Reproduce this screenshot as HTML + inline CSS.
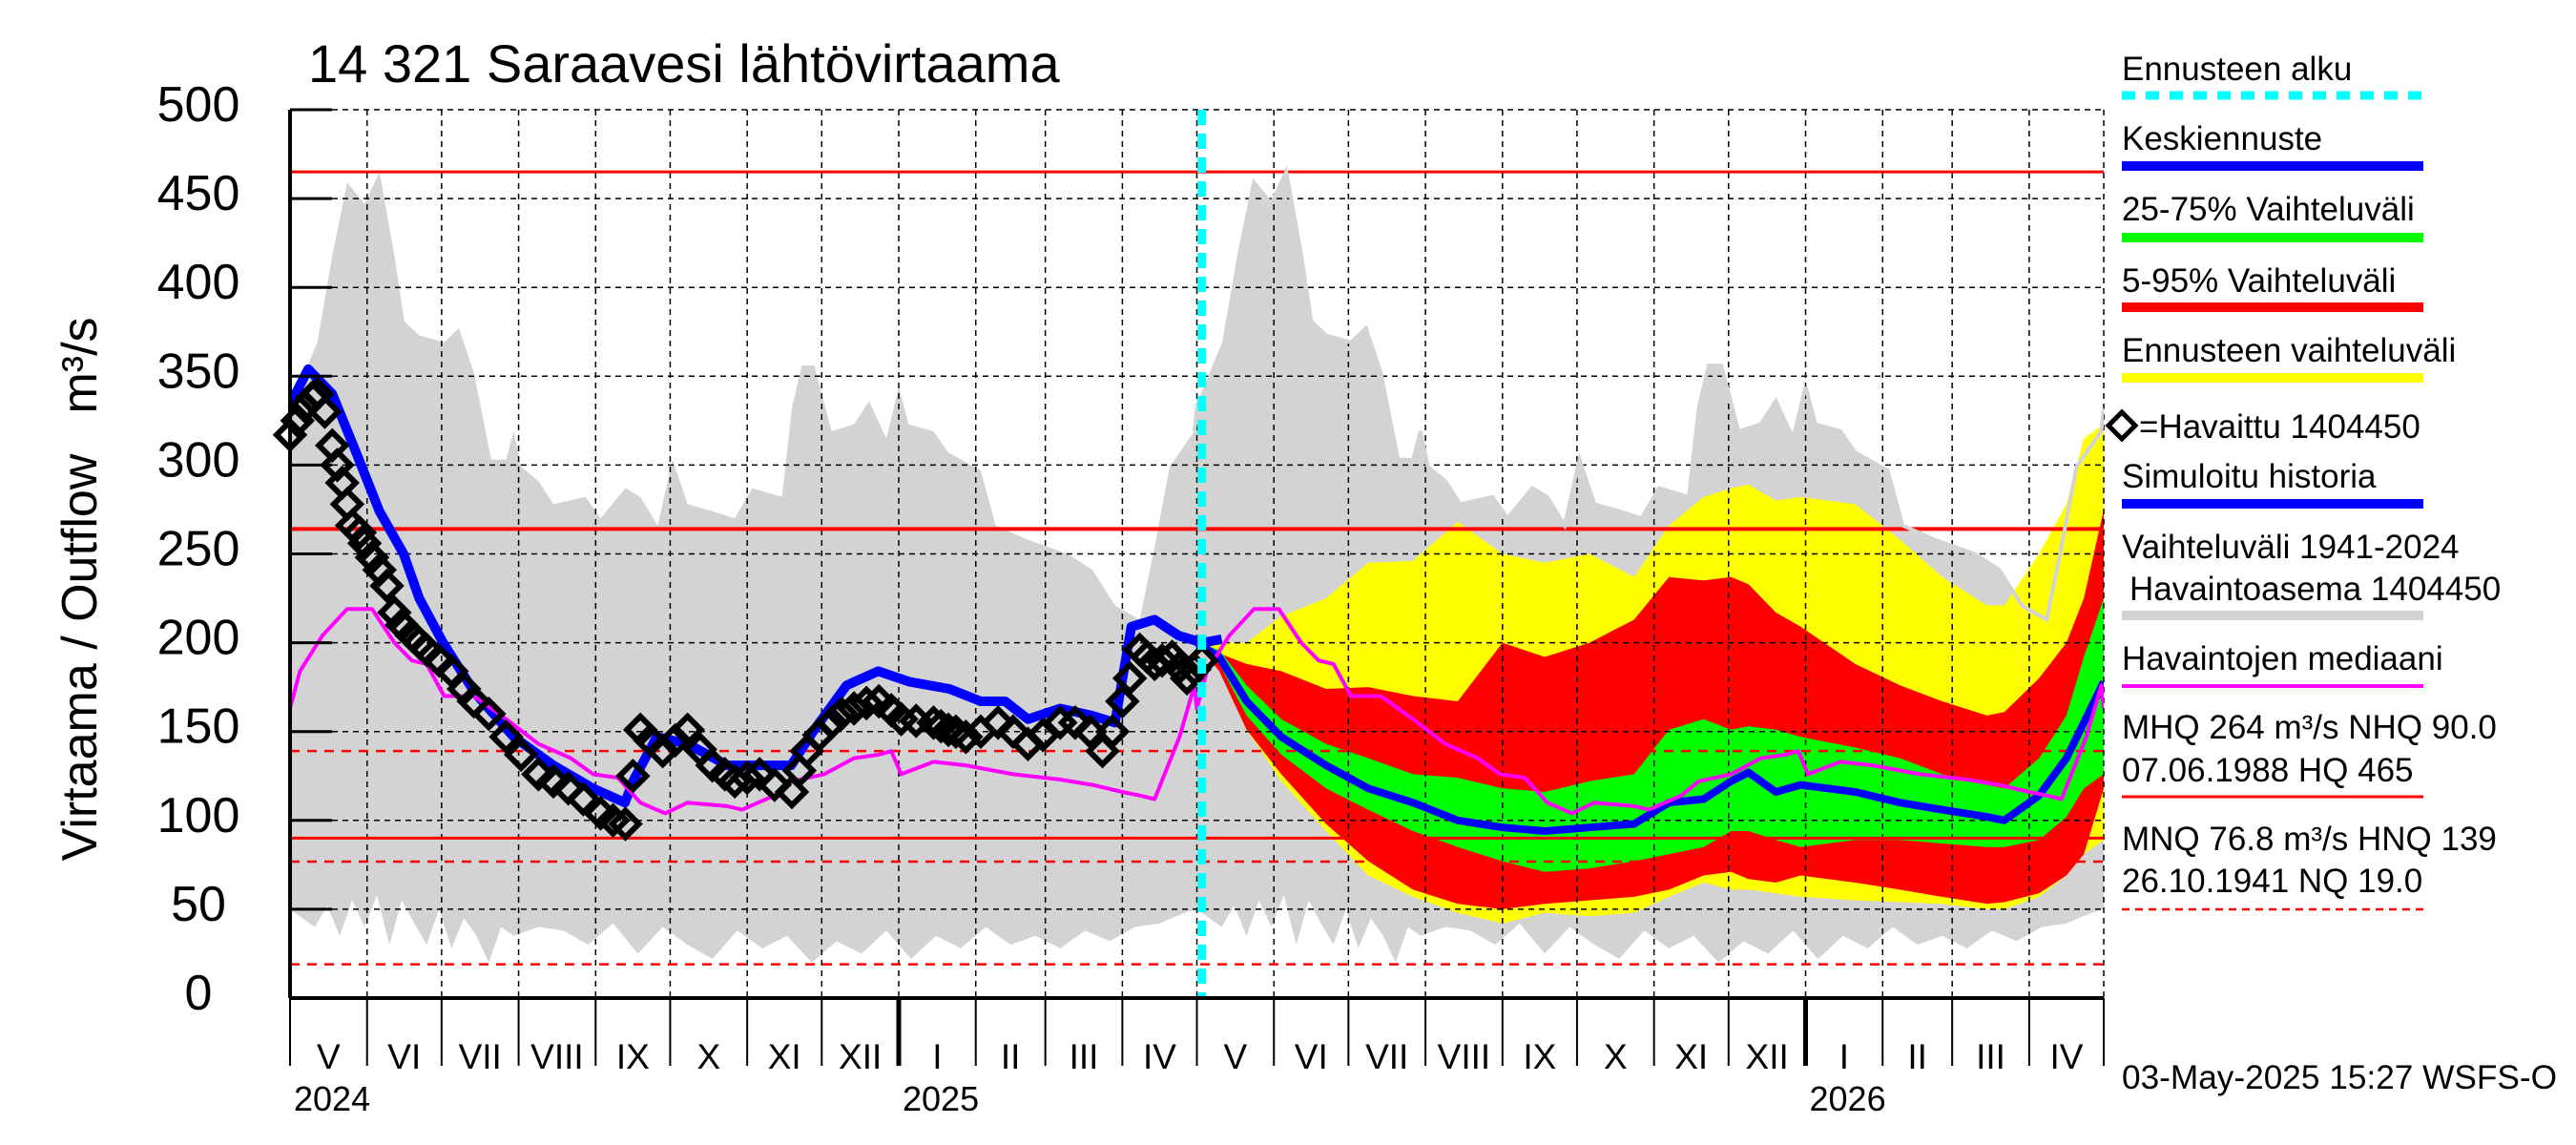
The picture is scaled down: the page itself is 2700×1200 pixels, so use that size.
<!DOCTYPE html>
<html><head><meta charset="utf-8"><style>
html,body{margin:0;padding:0;background:#fff;}
svg{display:block;font-family:"Liberation Sans",Arial,sans-serif;}
</style></head><body>
<svg id="chart" width="2700" height="1200" viewBox="0 0 2700 1200" xmlns="http://www.w3.org/2000/svg">
<rect x="0" y="0" width="2700" height="1200" fill="#fff"/>
<g id="plot"></g>
</svg>
<script>
// ---- data (days since 1 May 2024, values in m3/s) ----
const grayMaxDays = [0,11,17,23,30,36,42,46,52,62,68,74,81,87,90,93,100,106,119,125,135,141,148,154,160,170,179,186,198,202,206,211,218,227,233,240,245,249,259,265,278,284,297,313,323,332,342,348,354,364];
const grayMaxVals = [332,369,418,459,447,465,418,381,373,369,377,352,303,303,319,299,291,278,282,270,287,282,266,303,278,274,270,287,282,332,356,356,319,323,336,315,344,323,319,307,297,266,258,250,241,221,213,254,299,319];
const grayMinDays = [0,5,10,15,20,25,30,35,40,45,50,55,60,65,70,75,80,85,90,100,110,120,130,140,150,160,170,180,190,200,210,220,230,240,250,260,270,280,290,300,310,320,330,340,350,360];
const grayMinVals = [50,45,40,52,35,55,40,58,30,55,42,30,50,28,45,35,20,40,35,40,38,30,42,25,40,30,22,38,28,35,20,32,25,38,22,35,28,40,30,35,28,38,32,40,42,48];
const medDays = [0,4,13,23,33,42,49,55,62,74,87,100,113,122,132,141,151,160,176,182,195,202,215,227,237,242,246,259,272,291,310,323,335,342,348,358,364];
const medVals = [163,184,204,219,219,200,190,188,170,170,157,143,135,126,124,110,104,110,108,106,114,122,126,135,137,139,126,133,131,126,123,120,116,114,112,147,176];
const obsDays = [0,3,6,9,11,14,17,19,21,23,25,28,30,33,36,39,42,45,49,52,55,60,65,70,74,80,87,93,100,106,112,118,125,130,135,138,141,145,150,155,160,165,170,175,179,184,189,195,202,205,208,213,218,222,227,232,237,242,246,252,259,262,265,268,272,278,285,291,297,303,310,316,322,327,331,335,338,342,345,348,351,355,358,361,364,367];
const obsVals = [317,325,333,338,340,330,311,300,290,278,266,262,256,248,241,232,217,210,204,200,196,190,184,174,167,160,147,137,126,122,118,112,104,100,98,125,151,145,139,145,151,140,131,126,122,124,126,120,116,128,139,148,155,160,163,166,167,162,157,156,155,153,151,150,147,150,155,150,143,148,155,155,150,139,150,167,180,196,192,188,190,192,186,180,185,190];
const simDays = [0,7.3,17,26.6,36,45.7,52,61.6,74.3,90,106,122,134.8,138,147.6,160,176,189,201.7,211,224,236.7,249.4,265.4,278,287.8,297,310,322.7,332,338.6,348,357.7,367.3,375];
const simVals = [334,354,340,307,274,250,225,200,172,147,131,118,110,122,147,143,131,131,131,151,176,184,178,174,167,167,157,163,159,155,209,213,204,200,202];
const fcDays = [365,374,385,399,417,434,452,470,488,505,523,541,555,569,580,587,598,608,630,648,665,683,690,704,715,722,730];
const fcMean = [200,192,167,147,131,118,110,100,96,94,96,98,110,112,122,127,116,120,116,110,106,102,100,114,135,155,178];
const greenUp = [200,196,176,157,143,135,126,124,118,116,122,126,151,157,151,153,151,147,141,135,126,120,118,135,159,192,225];
const greenLo = [200,188,159,137,118,106,94,85,77,71,73,77,81,85,94,94,89,85,89,89,87,85,85,89,102,118,126];
const redUp = [200,194,188,184,174,175,170,167,200,192,200,213,237,235,237,233,217,209,188,176,167,159,161,180,200,225,275];
const redLo = [200,184,151,126,98,77,61,53,50,53,55,57,61,69,71,67,65,69,65,61,57,53,54,59,69,81,118];
const yelUp = [200,200,200,215,225,245,246,268,250,245,250,237,266,282,287,289,280,282,278,258,237,221,221,250,278,315,323];
const yelLo = [200,184,151,122,94,69,57,48,42,48,46,48,57,65,61,61,59,57,55,54,53,50,50,57,69,81,89];
const yTicks = [0,50,100,150,200,250,300,350,400,450,500];
const monthStarts = [0,31,61,92,123,153,184,214,245,276,304,335,365,396,426,457,488,518,549,579,610,641,669,700,730];
const monthNames = ["V","VI","VII","VIII","IX","X","XI","XII","I","II","III","IV","V","VI","VII","VIII","IX","X","XI","XII","I","II","III","IV"];
const yearLabels = ["2024","2025","2026"];
const yearDays = [0,245,610];
const refVals = {HQ:465, MHQ:264, NHQ:90, HNQ:139, MNQ:76.8, NQ:19};
const forecastStart = 367;

// ---- axes ----
const L=304,R=2205,T=115,B=1046,D=730;
const X=d=>L+d*(R-L)/D;
const Y=v=>B-v*(B-T)/500;
const NS="http://www.w3.org/2000/svg";
const g=document.getElementById('plot');
function mk(tag,attrs,parent){const e=document.createElementNS(NS,tag);for(const k in attrs)e.setAttribute(k,attrs[k]);(parent||g).appendChild(e);return e;}
function wrap(days,vals){const pts=[];for(let y=0;y<2;y++){for(let i=0;i<days.length;i++){const d=days[i]+365*y;if(d<=D)pts.push([d,vals[i]]);}}pts.push([D,vals[0]]);return pts;}
mk('defs',{}).innerHTML=`<clipPath id="pc"><rect x="${L}" y="${T}" width="${R-L}" height="${B-T}"/></clipPath>`;

// gray historic range
const gmax=wrap(grayMaxDays,grayMaxVals), gmin=wrap(grayMinDays,grayMinVals);
let gp=gmax.map(p=>X(p[0]).toFixed(1)+','+Y(p[1]).toFixed(1));
gp=gp.concat(gmin.slice().reverse().map(p=>X(p[0]).toFixed(1)+','+Y(p[1]).toFixed(1)));
let e=mk('polygon',{points:gp.join(' '),fill:'#d3d3d3','clip-path':'url(#pc)'});



function band(up,lo,color,name){
  const pts=fcDays.map((d,i)=>X(d).toFixed(1)+','+Y(up[i]).toFixed(1)).concat(fcDays.slice().reverse().map((d,i)=>X(d).toFixed(1)+','+Y(lo[fcDays.length-1-i]).toFixed(1)));
  const el=mk('polygon',{points:pts.join(' '),fill:color});
  
  
}
band(yelUp,yelLo,'#ffff00','forecast-range-band');
band(redUp,redLo,'#ff0000','band-5-95');
band(greenUp,greenLo,'#00ff00','band-25-75');

// grid
for(const v of yTicks){if(v===0)continue;const l=mk('line',{x1:L,x2:R,y1:Y(v),y2:Y(v),stroke:'#000','stroke-width':1.5,'stroke-dasharray':'6,5'});

}
for(const d of monthStarts){if(d===0)continue;const l=mk('line',{x1:X(d),x2:X(d),y1:T,y2:B,stroke:'#000','stroke-width':1.5,'stroke-dasharray':'6,5'});

}

// reference lines
function ref(v,w,dash,name){const l=mk('line',{x1:L,x2:R,y1:Y(v),y2:Y(v),stroke:'#ff0000','stroke-width':w});if(dash)l.setAttribute('stroke-dasharray',dash);

}
ref(refVals.HQ,3,null,'hq-line');ref(refVals.MHQ,4,null,'mhq-line');ref(refVals.NHQ,3,null,'nhq-line');
ref(refVals.HNQ,2.5,'10,8','hnq-line');ref(refVals.MNQ,2.5,'10,8','mnq-line');ref(refVals.NQ,2.5,'10,8','nq-line');

// gray max outline over forecast
const gmf=gmax.filter(p=>p[0]>=forecastStart-5);
e=mk('polyline',{points:gmf.map(p=>X(p[0]).toFixed(1)+','+Y(p[1]).toFixed(1)).join(' '),fill:'none',stroke:'#d3d3d3','stroke-width':4,'clip-path':'url(#pc)'});



function line(pts,color,w,name){const el=mk('polyline',{points:pts.map(p=>X(p[0]).toFixed(1)+','+Y(p[1]).toFixed(1)).join(' '),fill:'none',stroke:color,'stroke-width':w,'stroke-linejoin':'round','clip-path':'url(#pc)'});

}
line(simDays.map((d,i)=>[d,simVals[i]]),'#0000ff',10,'simulated-history-line');
line(fcDays.map((d,i)=>[d,fcMean[i]]),'#0000ff',8,'mean-forecast-line');
line(wrap(medDays,medVals),'#ff00ff',4,'median-line');

// observed diamonds
for(let i=0;i<obsDays.length;i++){const cx=X(obsDays[i]),cy=Y(obsVals[i]),s=14;
const p=mk('polygon',{points:`${cx},${cy-s} ${cx+s},${cy} ${cx},${cy+s} ${cx-s},${cy}`,fill:'none',stroke:'#000','stroke-width':6});

}

// forecast start
e=mk('line',{x1:X(forecastStart),x2:X(forecastStart),y1:T,y2:B,stroke:'#00ffff','stroke-width':9,'stroke-dasharray':'16,9'});



// axes
e=mk('line',{x1:L,x2:L,y1:T,y2:B,stroke:'#000','stroke-width':4});


e=mk('line',{x1:L,x2:R,y1:B,y2:B,stroke:'#000','stroke-width':4});


for(const v of yTicks){
  const t=mk('line',{x1:L,x2:L+44,y1:Y(v),y2:Y(v),stroke:'#000','stroke-width':3});
  
  
  const tx=mk('text',{x:208,y:Y(v)+12,'font-size':52,'text-anchor':'middle'});tx.textContent=v;
  
  
}
for(let i=0;i<monthStarts.length;i++){const d=monthStarts[i];const yr=yearDays.includes(d)&&d>0;
  const t=mk('line',{x1:X(d),x2:X(d),y1:B,y2:1117,stroke:'#000','stroke-width':yr?5:2});
  
  
  if(i<monthNames.length){const tx=mk('text',{x:(X(d)+X(monthStarts[i+1]))/2,y:1120,'font-size':37,'text-anchor':'middle'});tx.textContent=monthNames[i];
  
  }
}
for(let i=0;i<yearLabels.length;i++){const tx=mk('text',{x:X(yearDays[i])+4,y:1164,'font-size':36});tx.textContent=yearLabels[i];

}

// titles
e=mk('text',{x:323,y:86,'font-size':56});e.textContent='14 321 Saraavesi lähtövirtaama';


e=mk('text',{x:101,y:689,'font-size':52,'text-anchor':'middle',transform:'rotate(-90 101 689)'});e.textContent='Virtaama / Outflow';


e=mk('text',{x:101,y:383,'font-size':52,'text-anchor':'middle',transform:'rotate(-90 101 383)'});e.textContent='m³/s';



// legend
const LX=2224,LE=2540,FS=35;
function ltext(txt,y,name){const t=mk('text',{x:LX,y:y,'font-size':FS});t.textContent=txt;

return t;}
function lline(y,color,w,dash,name){const l=mk('line',{x1:LX,x2:LE,y1:y,y2:y,stroke:color,'stroke-width':w});if(dash)l.setAttribute('stroke-dasharray',dash);

}
ltext('Ennusteen alku',84,'legend-forecast-start');lline(100,'#00ffff',9,'14,11','legend-forecast-start-swatch');
ltext('Keskiennuste',157,'legend-mean-forecast');lline(174,'#0000ff',10,null,'legend-mean-swatch');
ltext('25-75% Vaihteluväli',231,'legend-25-75');lline(249,'#00ff00',10,null,'legend-25-75-swatch');
ltext('5-95% Vaihteluväli',306,'legend-5-95');lline(322,'#ff0000',10,null,'legend-5-95-swatch');
ltext('Ennusteen vaihteluväli',379,'legend-forecast-range');lline(396,'#ffff00',10,null,'legend-forecast-range-swatch');
e=mk('polygon',{points:`${LX},432 ${LX+14},446 ${LX},460 ${LX-14},446`,fill:'none',stroke:'#000','stroke-width':5});


e=mk('text',{x:LX+18,y:459,'font-size':FS});e.textContent='=Havaittu 1404450';


ltext('Simuloitu historia',511,'legend-simulated');lline(528,'#0000ff',10,null,'legend-simulated-swatch');
ltext('Vaihteluväli 1941-2024',585,'legend-historic-range');
e=mk('text',{x:LX+8,y:629,'font-size':FS});e.textContent='Havaintoasema 1404450';


lline(645,'#d3d3d3',10,null,'legend-historic-swatch');
ltext('Havaintojen mediaani',702,'legend-median');lline(719,'#ff00ff',4,null,'legend-median-swatch');
ltext('MHQ  264 m³/s NHQ 90.0',774,'legend-mhq');
ltext('07.06.1988 HQ  465',819,'legend-hq');lline(835,'#ff0000',3,null,'legend-hq-swatch');
ltext('MNQ 76.8 m³/s HNQ  139',891,'legend-mnq');
ltext('26.10.1941 NQ 19.0',935,'legend-nq');lline(953,'#ff0000',2.5,'8,6','legend-nq-swatch');
e=ltext('03-May-2025 15:27 WSFS-O',1141,'timestamp');e.setAttribute('textLength','456');e.setAttribute('lengthAdjust','spacingAndGlyphs');
</script>
</body></html>
